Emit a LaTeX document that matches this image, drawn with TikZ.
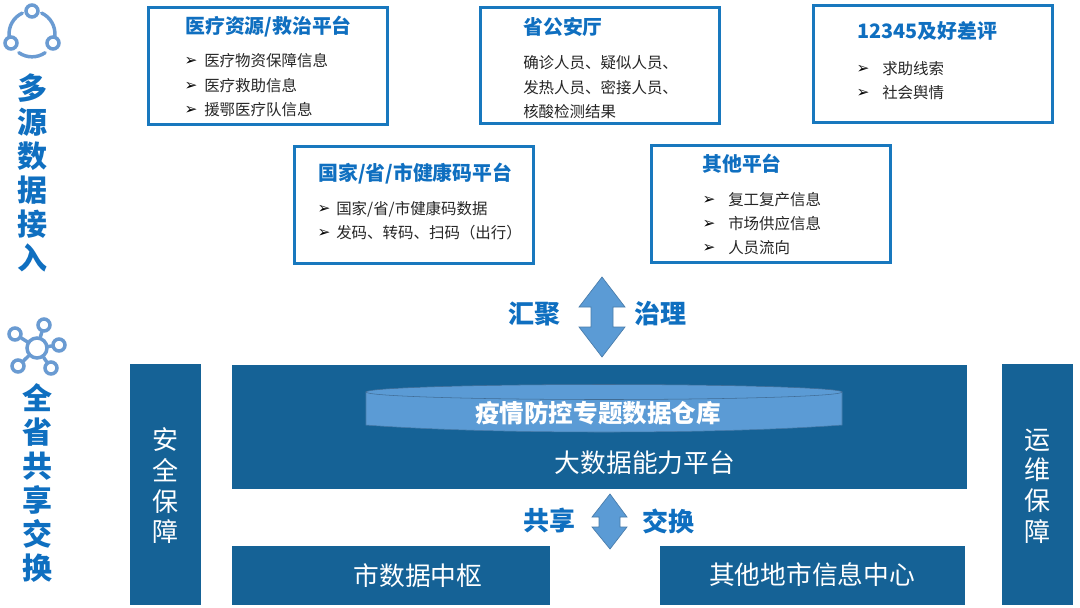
\documentclass[tikz,border=0pt]{standalone}
\usepackage{fontspec}
\setmainfont{Noto Sans CJK SC}
\newfontfamily\symfont{DejaVu Sans}
\definecolor{boxline}{HTML}{1878BE}
\definecolor{darkblue}{HTML}{156296}
\definecolor{midblue}{HTML}{5B9BD5}
\definecolor{titleblue}{HTML}{0F6FC0}
\definecolor{iconblue}{HTML}{6A9BD2}
\definecolor{textgrey}{HTML}{262626}
\tikzset{
  infobox/.style={draw=boxline,line width=2.25pt,fill=white},
  darkbox/.style={fill=darkblue,draw=none},
  blockarrow/.style={fill=midblue,draw=midblue!80!black,line width=.5pt,line join=miter},
  boxtitle/.style={anchor=west,inner sep=0pt,text=titleblue,font=\fontsize{14.9}{17}\selectfont\bfseries},
  boxitem/.style={anchor=west,inner sep=0pt,text=textgrey,font=\fontsize{11.6}{14}\selectfont},
  bulletmark/.style={anchor=center,inner sep=0pt,text=black,font=\symfont\fontsize{11.5}{12}\selectfont},
  sidehead/.style={inner sep=0pt,align=center,text=titleblue,font=\fontsize{22.5}{25.5}\selectfont\bfseries},
  flowlabel/.style={inner sep=0pt,text=titleblue,font=\fontsize{19.5}{23}\selectfont\bfseries},
  whitelabel/.style={inner sep=0pt,text=white,font=\fontsize{19.3}{23}\selectfont},
  sidelabel/.style={inner sep=0pt,align=center,text=white,font=\fontsize{19.5}{23}\selectfont},
  iconring/.style={draw=iconblue,line width=2.6pt,circle,inner sep=0pt,minimum size=9pt,fill=white},
  iconhub/.style={draw=iconblue,line width=2.6pt,circle,inner sep=0pt,minimum size=15pt,fill=white},
  iconline/.style={draw=iconblue,line width=2.6pt,line cap=round},
}
\begin{document}
\begin{tikzpicture}[x=.75pt,y=-.75pt]
\useasboundingbox[fill=white] (0,0) rectangle (1080,607);
% info boxes
\draw[infobox] (148,7) rectangle (387,124);
\draw[infobox] (480,7) rectangle (719,123);
\draw[infobox] (813,5) rectangle (1052,122);
\draw[infobox] (294,146) rectangle (533,263);
\draw[infobox] (651,145) rectangle (890,262);
% box 1
\node[boxtitle] (t1) at (185,27) {医疗资源/救治平台};
\node[bulletmark] (b11) at (191,61) {➢};
\node[bulletmark] (b12) at (191,86) {➢};
\node[bulletmark] (b13) at (191,110) {➢};
\node[boxitem] (i11) at (204,61) {医疗物资保障信息};
\node[boxitem] (i12) at (204,86) {医疗救助信息};
\node[boxitem] (i13) at (204,110) {援鄂医疗队信息};
% box 2
\node[boxtitle] (t2) at (523,27) {省公安厅};
\node[boxitem] (i21) at (523,63) {确诊人员、疑似人员、};
\node[boxitem] (i22) at (523,88) {发热人员、密接人员、};
\node[boxitem] (i23) at (523,112) {核酸检测结果};
% box 3
\node[boxtitle] (t3) at (857,31) {12345及好差评};
\node[bulletmark] (b31) at (863,69) {➢};
\node[bulletmark] (b32) at (863,93) {➢};
\node[boxitem] (i31) at (882,69) {求助线索};
\node[boxitem] (i32) at (882,93) {社会舆情};
% box 4
\node[boxtitle] (t4) at (318,174) {国家/省/市健康码平台};
\node[bulletmark] (b41) at (324,209) {➢};
\node[bulletmark] (b42) at (324,233) {➢};
\node[boxitem] (i41) at (336,209) {国家/省/市健康码数据};
\node[boxitem] (i42) at (336,233) {发码、转码、扫码（出行）};
% box 5
\node[boxtitle] (t5) at (702,164) {其他平台};
\node[bulletmark] (b51) at (709,200) {➢};
\node[bulletmark] (b52) at (709,224) {➢};
\node[bulletmark] (b53) at (709,248) {➢};
\node[boxitem] (i51) at (728,200) {复工复产信息};
\node[boxitem] (i52) at (728,224) {市场供应信息};
\node[boxitem] (i53) at (728,248) {人员流向};
% left icons
\coordinate (ic) at (32,33.9);
\foreach \a/\b in {115/185,235/305,-5/65}
  \draw[iconline] (ic) ++(\a:17.2pt) arc[start angle=\a,end angle=\b,radius=17.2pt];
\node[iconring] (r1) at (32,11) {};
\node[iconring] (r2) at (11,43) {};
\node[iconring] (r3) at (53,43) {};
\node[iconhub] (hub) at (37,348) {};
\node[iconring] (s1) at (44,325) {};
\node[iconring] (s2) at (15,334) {};
\node[iconring] (s3) at (59,345) {};
\node[iconring] (s4) at (18,366) {};
\node[iconring] (s5) at (51,368) {};
\foreach \s in {s1,s2,s3,s4,s5} \draw[iconline] (hub) -- (\s);
\node[sidehead] (h1) at (32,173) {多\\源\\数\\据\\接\\入};
\node[sidehead] (h2) at (37,483) {全\\省\\共\\享\\交\\换};
% dark boxes
\fill[darkbox] (130,364) rectangle (201,605);
\fill[darkbox] (1002,364) rectangle (1073,605);
\fill[darkbox] (232,365) rectangle (967,489);
\fill[darkbox] (232,546) rectangle (550,605);
\fill[darkbox] (660,546) rectangle (965,605);
\node[sidelabel] (s-a) at (165,486) {安\\全\\保\\障};
\node[sidelabel] (s-b) at (1037,486) {运\\维\\保\\障};
% cylinder
\draw[fill=midblue,draw=midblue!80!black,line width=.4pt] (366,392) -- (366,425)
  .. controls (420,429) and (500,432) .. (604,432)
  .. controls (708,432) and (788,429) .. (842,425) -- (842,392) -- cycle;
\draw[fill=midblue,draw=midblue!70!black,line width=.4pt] (604,392) ellipse [x radius=238,y radius=7.5];
\node[inner sep=0pt,text=white,font=\fontsize{18.4}{22}\selectfont\bfseries] (dw) at (598,413) {疫情防控专题数据仓库};
\node[whitelabel] (bd) at (645,463) {大数据能力平台};
\node[whitelabel] (c1) at (418,576) {市数据中枢};
\node[whitelabel] (c2) at (812,575) {其他地市信息中心};
% arrows
\draw[blockarrow] (602,277) -- (625,307) -- (613,307) -- (613,327) -- (625,327) -- (602,357)
  -- (579,327) -- (591,327) -- (591,307) -- (579,307) -- cycle;
\draw[blockarrow] (610,494) -- (627,517) -- (620,517) -- (620,527) -- (627,527) -- (610,549)
  -- (592,527) -- (599,527) -- (599,517) -- (592,517) -- cycle;
\node[flowlabel] (l1) at (534,314) {汇聚};
\node[flowlabel] (l2) at (660,314) {治理};
\node[flowlabel] (l3) at (549,521) {共享};
\node[flowlabel] (l4) at (668,521) {交换};
\end{tikzpicture}
\end{document}
